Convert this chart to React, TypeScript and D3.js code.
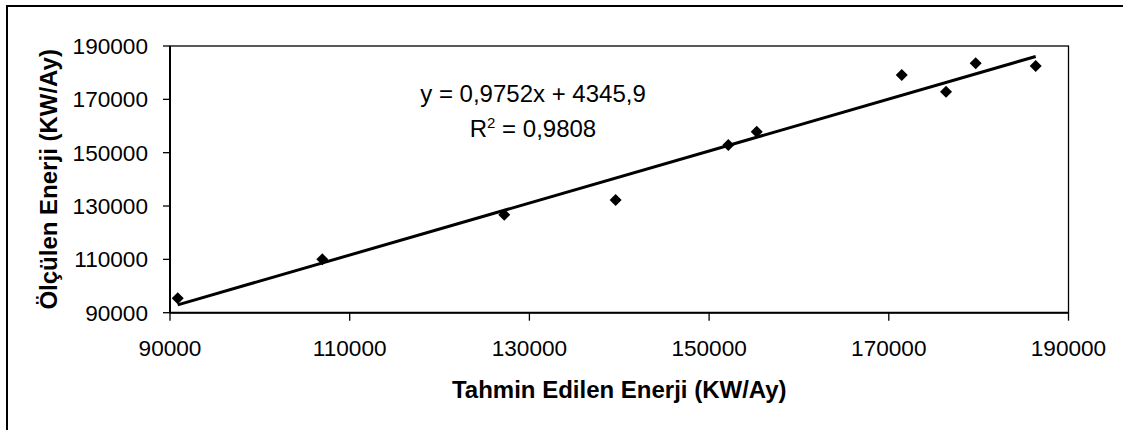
import React from "react";
import * as d3 from "d3";

const predicted = [90860, 106950, 127200, 139600, 152140, 155300, 171440, 176370, 179670, 186350];
const measured = [95400, 110000, 126700, 132260, 152890, 157880, 179140, 172880, 183530, 182510];
const xTicks = [90000, 110000, 130000, 150000, 170000, 190000];
const yTicks = [90000, 110000, 130000, 150000, 170000, 190000];
const slope = 0.9752;
const intercept = 4345.9;
const eqText = "y = 0,9752x + 4345,9";
const r2Text = "0,9808";
const xTitle = "Tahmin Edilen Enerji (KW/Ay)";
const yTitle = "Ölçülen Enerji (KW/Ay)";

const W = 1123;
const H = 430;
const L = 170, R = 1068.5, T = 46, B = 312.7;

export default function App() {
  const x = d3.scaleLinear().domain([90000, 190000]).range([L, R]);
  const y = d3.scaleLinear().domain([90000, 190000]).range([B, T]);
  const xmin = d3.min(predicted) as number;
  const xmax = d3.max(predicted) as number;
  const line = d3.line<number>().x((d) => x(d)).y((d) => y(slope * d + intercept));
  const diamond = d3.symbol(d3.symbolSquare, 72)();
  const font = "'Liberation Sans', Arial, sans-serif";
  return (
    <svg width={W} height={H} style={{ position: "absolute", left: 0, top: 0, background: "#fff" }} fontFamily={font}>
      <rect x={0} y={0} width={W} height={H} fill="#fff" />
      <rect x={7} y={6} width={1140} height={460} fill="none" stroke="#000" strokeWidth={2} />
      <rect x={L} y={T} width={R - L} height={B - T} fill="none" stroke="#000" strokeWidth={1.3} />
      <line x1={L} x2={L} y1={T} y2={B} stroke="#000" strokeWidth={2} />
      <line x1={L} x2={R} y1={B} y2={B} stroke="#000" strokeWidth={2} />
      {yTicks.map((t) => (
        <g key={"y" + t}>
          <line x1={L - 7} x2={L} y1={y(t)} y2={y(t)} stroke="#000" strokeWidth={1.3} />
          <text x={L - 22} y={y(t)} dy="0.36em" textAnchor="end" fontSize={22.6} fill="#000">
            {t}
          </text>
        </g>
      ))}
      {xTicks.map((t) => (
        <g key={"x" + t}>
          <line x1={x(t)} x2={x(t)} y1={B} y2={B + 8} stroke="#000" strokeWidth={1.3} />
          <text x={x(t)} y={355.5} textAnchor="middle" fontSize={22.6} fill="#000">
            {t}
          </text>
        </g>
      ))}
      <path d={line([xmin, xmax]) || ""} fill="none" stroke="#000" strokeWidth={3} />
      {predicted.map((p, i) => (
        <path key={i} d={diamond || ""} transform={`translate(${x(p)},${y(measured[i])}) rotate(45)`} fill="#000" />
      ))}
      <text x={533} y={101.5} textAnchor="middle" fontSize={24} fill="#000">{eqText}</text>
      <text x={533} y={136.5} textAnchor="middle" fontSize={24} fill="#000">
        R<tspan dy={-9} fontSize={15}>2</tspan>
        <tspan dy={9}>{" = " + r2Text}</tspan>
      </text>
      <text x={(L + R) / 2} y={398} textAnchor="middle" fontSize={24} fontWeight="bold" fill="#000">
        {xTitle}
      </text>
      <text transform={`translate(57,${(T + B) / 2}) rotate(-90)`} textAnchor="middle" fontSize={24} fontWeight="bold" fill="#000">
        {yTitle}
      </text>
    </svg>
  );
}
